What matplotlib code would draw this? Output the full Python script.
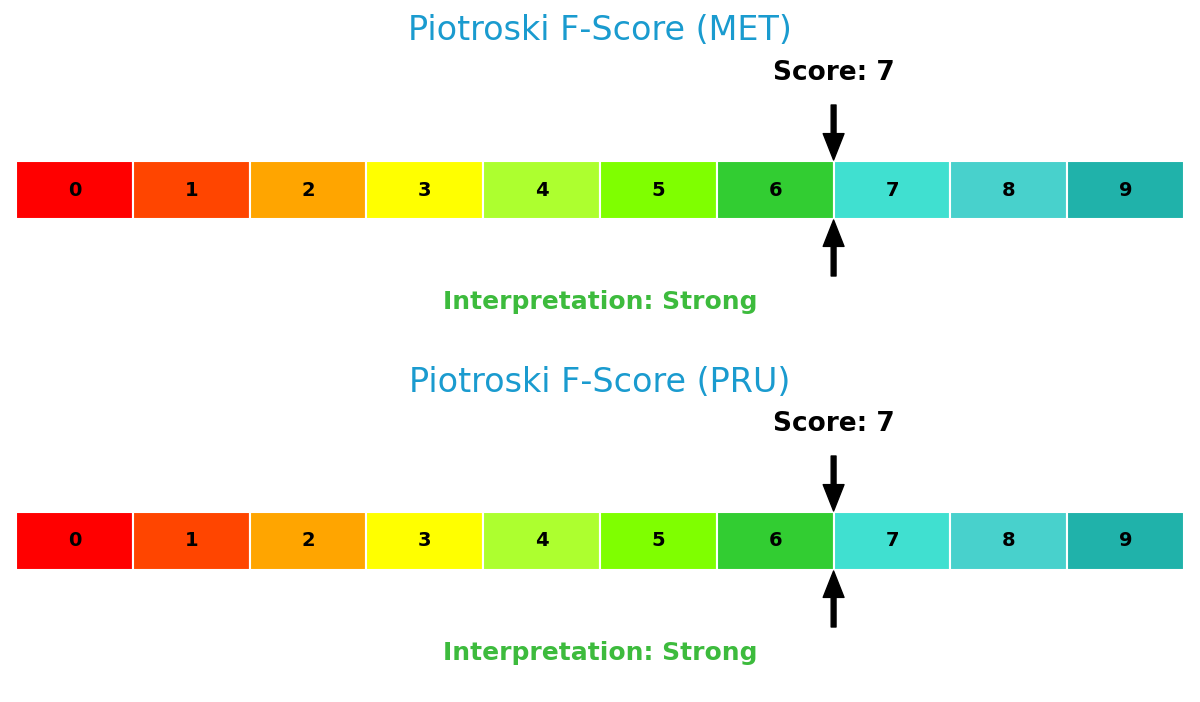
import matplotlib
matplotlib.use("Agg")
import matplotlib.pyplot as plt
from matplotlib.patches import Rectangle

tickers = ["MET", "PRU"]
scores = [7, 7]
interpretations = ["Strong", "Strong"]
levels = list(range(10))
level_colors = ["#FF0000", "#FF4500", "#FFA500", "#FFFF00", "#ADFF2F",
                "#7FFF00", "#32CD32", "#40E0D0", "#48D1CC", "#20B2AA"]

TITLE_COLOR = "#1a9bcf"
INTERP_COLOR = "#3dbb3d"

fig = plt.figure(figsize=(12, 7.02), dpi=100)
pad = 16 / 116.8   # white margin left/right in cell units

for k, (tk, sc, interp) in enumerate(zip(tickers, scores, interpretations)):
    ax = fig.add_axes([0, 0.5 - 0.5 * k, 1, 0.5])
    ax.set_xlim(-pad, 10 + pad)
    ax.set_ylim(351, 0)       # pixel-like units, top down
    ax.axis("off")

    for lv, col in zip(levels, level_colors):
        ax.add_patch(Rectangle((lv, 161), 1, 58, facecolor=col,
                               edgecolor="white", lw=1.5))
        ax.text(lv + 0.5, 190, str(lv), ha="center", va="center",
                fontsize=14, fontweight="bold", color="black")

    ax.text(5, 31, f"Piotroski F-Score ({tk})", ha="center", va="center",
            fontsize=24, color=TITLE_COLOR)
    ax.text(sc, 73, f"Score: {sc}", ha="center", va="center",
            fontsize=19, fontweight="bold", color="black")

    arrow = dict(facecolor="black", edgecolor="black", width=3.5,
                 headwidth=15, headlength=19, shrink=0)
    ax.annotate("", xy=(sc, 160), xytext=(sc, 105), arrowprops=arrow)
    ax.annotate("", xy=(sc, 220), xytext=(sc, 276), arrowprops=arrow)

    ax.text(5, 302, f"Interpretation: {interp}", ha="center", va="center",
            fontsize=18, fontweight="bold", color=INTERP_COLOR)

fig.savefig("out.png", dpi=100)
